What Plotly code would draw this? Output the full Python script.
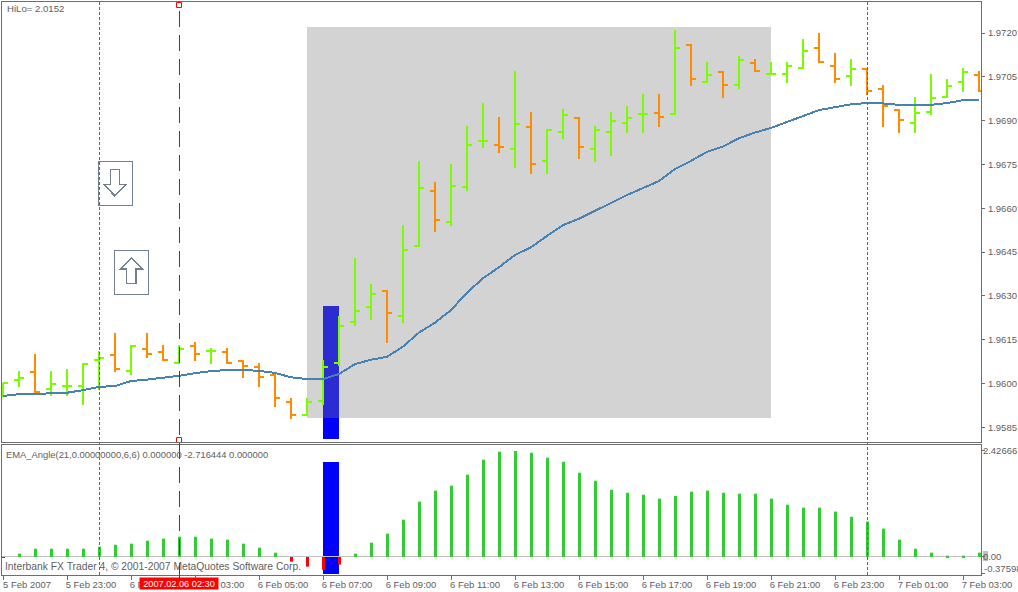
import plotly.graph_objects as go

opens = [1.95957,1.96012,1.96039,1.95981,1.95991,1.95991,1.96080,1.96097,1.96042,1.96118,1.96108,1.96070,1.96128,1.96111,1.96108,1.96077,
 1.96056,1.96029,1.95936,1.95892,1.95940,1.96070,1.96210,1.96262,1.96316,1.96231,1.96471,1.96659,1.96553,1.96673,1.96830,1.96816,
 1.96803,1.96878,1.96762,1.96861,1.96909,1.96803,1.96861,1.96892,1.96923,1.96926,1.96923,1.97159,1.97032,1.97066,1.97022,1.97097,
 1.97060,1.97060,1.97080,1.97149,1.97087,1.97053,1.97077,1.97008,1.96936,1.96892,1.96929,1.96981,1.97032,1.97056]
highs = [1.96001,1.96042,1.96101,1.96042,1.96049,1.96070,1.96111,1.96173,1.96132,1.96173,1.96132,1.96132,1.96142,1.96121,1.96121,1.96080,
 1.96070,1.96032,1.95950,1.95950,1.96080,1.96231,1.96429,1.96340,1.96320,1.96542,1.96762,1.96690,1.96751,1.96882,1.96960,1.96912,
 1.97070,1.96929,1.96871,1.96940,1.96912,1.96882,1.96929,1.96950,1.96991,1.96991,1.97210,1.97162,1.97101,1.97070,1.97121,1.97111,
 1.97101,1.97101,1.97179,1.97200,1.97132,1.97111,1.97080,1.97022,1.96940,1.96981,1.97060,1.97042,1.97080,1.97070]
lows = [1.95957,1.95988,1.95967,1.95957,1.95957,1.95926,1.95977,1.96039,1.96029,1.96087,1.96077,1.96066,1.96077,1.96066,1.96066,1.96019,
 1.95988,1.95919,1.95878,1.95888,1.95926,1.96060,1.96197,1.96217,1.96138,1.96207,1.96467,1.96519,1.96539,1.96659,1.96806,1.96789,
 1.96738,1.96717,1.96717,1.96837,1.96769,1.96758,1.96779,1.96858,1.96858,1.96878,1.96919,1.97018,1.97029,1.96977,1.97008,1.97066,
 1.97056,1.97029,1.97077,1.97097,1.97029,1.97018,1.96988,1.96878,1.96858,1.96858,1.96919,1.96977,1.96998,1.96998]
closes = [1.96001,1.96019,1.95971,1.95998,1.95992,1.96066,1.96087,1.96049,1.96128,1.96101,1.96080,1.96118,1.96101,1.96112,1.96070,1.96060,
 1.96022,1.95950,1.95892,1.95936,1.96056,1.96197,1.96248,1.96306,1.96241,1.96457,1.96669,1.96560,1.96676,1.96816,1.96831,1.96810,
 1.96888,1.96751,1.96868,1.96919,1.96810,1.96868,1.96899,1.96909,1.96924,1.96912,1.97149,1.97042,1.97056,1.97022,1.97108,1.97070,
 1.97061,1.97087,1.97138,1.97101,1.97042,1.97077,1.97001,1.96950,1.96902,1.96926,1.96977,1.97018,1.97066,1.97001]
ema = [1.95957,1.95963,1.95964,1.95965,1.95968,1.95977,1.95988,1.95991,1.96008,1.96013,1.96019,1.96026,1.96035,1.96042,1.96046,1.96046,
 1.96043,1.96036,1.96021,1.96015,1.96015,1.96032,1.96066,1.96081,1.96091,1.96126,1.96174,1.96208,1.96251,1.96311,1.96360,1.96398,
 1.96440,1.96466,1.96505,1.96542,1.96564,1.96591,1.96617,1.96645,1.96669,1.96693,1.96734,1.96762,1.96793,1.96811,1.96840,1.96859,
 1.96875,1.96895,1.96917,1.96936,1.96946,1.96956,1.96960,1.96959,1.96954,1.96954,1.96954,1.96960,1.96970,1.96972]
angle = [-0.01,0.076,0.19,0.19,0.19,0.19,0.236,0.28,0.305,0.374,0.42,0.465,0.465,0.42,0.397,0.305,0.213,0.099,-0.107,-0.22,-0.29,-0.175,
 0.076,0.328,0.534,0.854,1.266,1.518,1.632,1.884,2.227,2.41,2.4267,2.387,2.273,2.18,1.93,1.746,1.54,1.47,1.426,1.335,1.40,1.495,1.52,
 1.47,1.45,1.45,1.335,1.197,1.13,1.13,1.04,0.92,0.81,0.65,0.397,0.19,0.10,0.03,0.03,0.10]
bars = list(range(len(opens)))

price_ticks = [1.9585,1.9600,1.9615,1.9630,1.9645,1.9660,1.9675,1.9690,1.9705,1.9720]
price_labels = ["1.9585","1.9600","1.9615","1.9630","1.9645","1.9660","1.9675","1.9690","1.9705","1.9720"]
time_tick_bars = [0,4,8,12,16,20,24,28,32,36,40,44,48,52,56,60]
time_labels = ["5 Feb 2007","5 Feb 23:00","6 Feb 01:00","6 Feb 03:00","6 Feb 05:00","6 Feb 07:00","6 Feb 09:00","6 Feb 11:00",
               "6 Feb 13:00","6 Feb 15:00","6 Feb 17:00","6 Feb 19:00","6 Feb 21:00","6 Feb 23:00","7 Feb 01:00","7 Feb 03:00"]
angle_ticks = [2.42666, 0.0, -0.37598]
angle_labels = ["2.42666", "0.00", ""]

gray_box_bars = (19, 48)
gray_box_prices = (1.95881, 1.97221)
blue_bars = (20, 21)
blue_upper_prices = (1.95881, 1.96265)
blue_lower_prices = (1.95810, 1.95881)
blue_angle = (-0.389, 2.175)
dotted_bars = [6, 54]
red_bar = 11
anchor_prices = [1.97296, 1.95806]
down_arrow_at = (7.04, 1.96683)
up_arrow_at = (8.03, 1.9638)

GREEN, ORANGE, STEEL, LIME, TXT, EDGE, SLATE = "#7CFC00", "#FF8C00", "#4682B4", "#32CD32", "#606060", "#6E6E6E", "#708090"
FONT = "Liberation Sans"

fig = go.Figure()
fig.add_trace(go.Ohlc(x=bars, open=opens, high=highs, low=lows, close=closes, xaxis="x", yaxis="y", tickwidth=0.33,
                      increasing=dict(line=dict(color=GREEN, width=2)), decreasing=dict(line=dict(color=ORANGE, width=2)),
                      showlegend=False))
fig.add_trace(go.Scatter(x=bars, y=ema, mode="lines", line=dict(color=STEEL, width=2), xaxis="x", yaxis="y", showlegend=False))
fig.add_trace(go.Scatter(x=[red_bar, red_bar], y=anchor_prices, mode="markers", cliponaxis=False, xaxis="x", yaxis="y", showlegend=False,
                         marker=dict(symbol="square", size=5, color="white", line=dict(color="red", width=1))))
fig.add_trace(go.Bar(x=bars, y=angle, width=0.1875, offset=-0.0625, xaxis="x2", yaxis="y2", showlegend=False,
                     marker=dict(color=[LIME if v >= 0 else "red" for v in angle], line=dict(width=0))))

def pixel_shape(kind, at, **kw):
    d = dict(type=kind, xref="x", yref="y", xsizemode="pixel", ysizemode="pixel", xanchor=at[0], yanchor=at[1],
             line=dict(color=SLATE, width=kw.pop("w", 1)))
    d.update(kw)
    return d

shapes = [
    dict(type="rect", layer="below", xref="x", yref="y", x0=gray_box_bars[0], x1=gray_box_bars[1],
         y0=gray_box_prices[0], y1=gray_box_prices[1], fillcolor="#D3D3D3", line=dict(width=0)),
    dict(type="rect", layer="below", xref="x", yref="y", x0=blue_bars[0], x1=blue_bars[1],
         y0=blue_upper_prices[0], y1=blue_upper_prices[1], fillcolor="#2C2CD3", line=dict(width=0)),
    dict(type="rect", layer="below", xref="x", yref="y", x0=blue_bars[0], x1=blue_bars[1],
         y0=blue_lower_prices[0], y1=blue_lower_prices[1], fillcolor="#0000FF", line=dict(width=0)),
    dict(type="rect", layer="below", xref="x2", yref="y2", x0=blue_bars[0], x1=blue_bars[1],
         y0=blue_angle[0], y1=blue_angle[1], fillcolor="#0000FF", line=dict(width=0)),
    dict(type="rect", layer="below", xref="paper", yref="y2", x0=1.002, x1=1.0071, y0=-0.092, y1=0.137,
         fillcolor="#C0C0C0", line=dict(width=0)),
    dict(type="line", xref="x", yref="paper", x0=red_bar, x1=red_bar, y0=-0.007, y1=1,
         line=dict(color="#E00000", width=1, dash="16px,8px")),
    pixel_shape("rect", down_arrow_at, x0=-17, x1=17, y0=-22, y1=22),
    pixel_shape("rect", up_arrow_at, x0=-17, x1=17, y0=-22, y1=22),
    pixel_shape("path", down_arrow_at, w=1.5, path="M -5.3 14.7 L 4 14.7 L 4 -0.3 L 10.3 -0.3 L -1 -11.7 L -12 -0.3 L -5.3 -0.3 Z"),
    pixel_shape("path", up_arrow_at, w=1.5, path="M 0 14.5 L 11 3.5 L 4.5 3.5 L 4.5 -11.2 L -4.8 -11.2 L -4.8 3.5 L -11 3.5 Z"),
]
for b in dotted_bars:
    shapes.append(dict(type="line", xref="x", yref="paper", x0=b, x1=b, y0=0, y1=1,
                       line=dict(color="#666666", width=1, dash="3px,2px")))

txt = dict(family=FONT, size=9.5, color=TXT)
annotations = [
    dict(text="HiLo= 2.0152", xref="paper", yref="paper", x=0.003, y=0.9883, xanchor="left", yanchor="middle", showarrow=False,
         font=dict(family=FONT, size=9.6, color=TXT)),
    dict(text="EMA_Angle(21,0.00000000,6,6) 0.000000 -2.716444 0.000000", xref="paper", yref="paper", x=0.0025, y=0.21,
         xanchor="left", yanchor="middle", showarrow=False, font=dict(family=FONT, size=9.4, color=TXT)),
    dict(text="Interbank FX Trader 4, © 2001-2007 MetaQuotes Software Corp.", xref="paper", yref="paper", x=0.0015, y=0.0157,
         xanchor="left", yanchor="middle", showarrow=False, font=dict(family=FONT, size=10.3, color=TXT)),
    dict(text="-0.37598", xref="paper", yref="paper", x=1.0012, y=0.0122, xanchor="left", yanchor="middle", showarrow=False, font=txt),
    dict(text="2007.02.06 02:30", xref="x2", yref="paper", x=red_bar, y=-0.0157, xanchor="center", yanchor="middle", showarrow=False,
         bgcolor="red", borderpad=0, font=dict(family=FONT, size=9.2, color="white"), width=78, height=11),
]

xr = [-0.0625, 61.125]
ax_common = dict(range=xr, showgrid=False, zeroline=False, showline=True, linecolor=EDGE, linewidth=1, mirror=True)
fig.update_layout(
    width=1018, height=592, margin=dict(l=2, r=37, t=2, b=17, autoexpand=False),
    paper_bgcolor="white", plot_bgcolor="white", barmode="overlay", dragmode=False, showlegend=False,
    font=dict(family=FONT, size=9.5, color=TXT), shapes=shapes, annotations=annotations,
    xaxis=dict(ax_common, anchor="y", showticklabels=False, ticks="", rangeslider=dict(visible=False)),
    xaxis2=dict(ax_common, anchor="y2", tickmode="array", tickvals=time_tick_bars, ticktext=time_labels, ticks="outside",
                ticklen=4, tickcolor=EDGE, ticklabelshift=24, ticklabelstandoff=-3, tickfont=txt, ticklabeloverflow="allow", tickangle=0),
    yaxis=dict(domain=[0.2321, 1], range=[1.957993, 1.973062], side="right", anchor="x", tickmode="array", tickvals=price_ticks,
               ticktext=price_labels, showgrid=False, zeroline=False, showline=True, linecolor=EDGE, mirror=True, ticks="outside",
               ticklen=3, ticklabelstandoff=1, tickcolor=EDGE, tickfont=txt),
    yaxis2=dict(domain=[0, 0.2269], range=[-0.412, 2.564], side="right", anchor="x2", tickmode="array", tickvals=angle_ticks,
                ticktext=angle_labels, showgrid=False, zeroline=True, zerolinecolor="#C0C0C0", zerolinewidth=1, showline=True,
                linecolor=EDGE, mirror=True, ticks="outside", ticklen=3, ticklabelstandoff=-4, tickcolor=EDGE, tickfont=txt),
)
page_css = ("var s=document.createElement('style');"
            "s.textContent='body{margin:0} .ohlc path,.shapelayer path,.scatterlayer .js-line{shape-rendering:crispEdges}';"
            "document.head.appendChild(s);")
fig.write_html("out.html", config={"displayModeBar": False}, post_script=page_css)
